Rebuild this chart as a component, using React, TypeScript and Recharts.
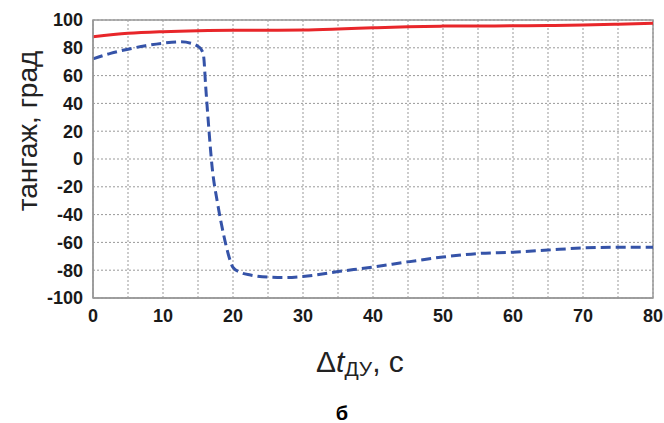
import {
  LineChart,
  Line,
  XAxis,
  YAxis,
  CartesianGrid,
  ReferenceArea,
} from "recharts";

// time, s
const redT = [0, 5, 10, 15, 20, 25, 30, 35, 40, 45, 50, 55, 60, 65, 70, 75, 80];
// pitch, deg (solid red)
const redV = [88, 90.4, 91.6, 92.3, 92.6, 92.6, 92.8, 93.5, 94.4, 95.2, 95.6, 95.7, 95.8, 96, 96.4, 97, 97.6];

const blueT = [
  0, 2.5, 5, 7.5, 10, 12.5, 14, 15, 15.5, 15.8, 16.1, 16.5, 17, 17.8, 18.6, 19.3, 20, 21, 22.5, 25,
  27.5, 30, 35, 40, 45, 50, 55, 60, 65, 70, 75, 80,
];
// pitch, deg (dashed blue)
const blueV = [
  72, 76, 79, 81.5, 83.3, 84.3, 83.3, 81, 78.5, 74, 52, 25, -5, -32, -53, -68, -78, -81.5, -83.5, -85,
  -85.3, -84.5, -81, -77.7, -74, -70.5, -68, -67, -65.5, -64, -63.5, -63.5,
];

const xTicks = [0, 5, 10, 15, 20, 25, 30, 35, 40, 45, 50, 55, 60, 65, 70, 75, 80];
const yTicks = [-100, -80, -60, -40, -20, 0, 20, 40, 60, 80, 100];

const redData = redT.map((t, i) => ({ t, v: redV[i] }));
const blueData = blueT.map((t, i) => ({ t, v: blueV[i] }));

const font = '"Liberation Sans", Arial, sans-serif';
const tickStyle = { fontSize: 18, fontWeight: 700, fill: "#1a1a1a", fontFamily: font };

export default function App() {
  return (
    <div style={{ position: "absolute", left: 0, top: 0, background: "#fff" }}>
      <LineChart
        width={664}
        height={423}
        margin={{ top: 20, right: 11, left: 0, bottom: 0 }}
      >
        <CartesianGrid stroke="#999" strokeDasharray="2 2" />
        <XAxis
          type="number"
          dataKey="t"
          domain={[0, 80]}
          ticks={xTicks}
          tickFormatter={(v) => (v % 10 === 0 ? `${v}` : "")}
          tickLine={false}
          tickMargin={5}
          axisLine={{ stroke: "#999", strokeWidth: 1.5 }}
          tick={tickStyle}
          height={125}
          allowDuplicatedCategory={false}
        />
        <YAxis
          type="number"
          domain={[-100, 100]}
          ticks={yTicks}
          tickLine={false}
          tickMargin={4}
          axisLine={{ stroke: "#999", strokeWidth: 1.5 }}
          tick={tickStyle}
          width={93}
        />
        <ReferenceArea
          x1={0}
          x2={80}
          y1={-100}
          y2={100}
          fill="none"
          stroke="#999"
          strokeWidth={1.5}
          ifOverflow="visible"
        />
        <Line
          data={redData}
          dataKey="v"
          type="monotone"
          stroke="#e8262a"
          strokeWidth={3}
          dot={false}
          isAnimationActive={false}
        />
        <Line
          data={blueData}
          dataKey="v"
          type="monotone"
          stroke="#3553a8"
          strokeWidth={3}
          strokeDasharray="10 5"
          dot={false}
          isAnimationActive={false}
        />
        <text
          x={27}
          y={131}
          transform="rotate(-90 27 131)"
          textAnchor="middle"
          dominantBaseline="central"
          fontFamily={font}
          fontSize={28}
          fill="#222"
        >
          тангаж, град
        </text>
        <text x={316} y={372} fontFamily={font} fontSize={30} fill="#222">
          Δ<tspan fontStyle="italic">t</tspan>
          <tspan fontSize={21} dy={4}>ДУ</tspan>
          <tspan dy={-4}>, с</tspan>
        </text>
        <text
          x={342}
          y={420}
          textAnchor="middle"
          fontFamily={font}
          fontSize={20}
          fontWeight={700}
          fill="#000"
        >
          б
        </text>
      </LineChart>
    </div>
  );
}
